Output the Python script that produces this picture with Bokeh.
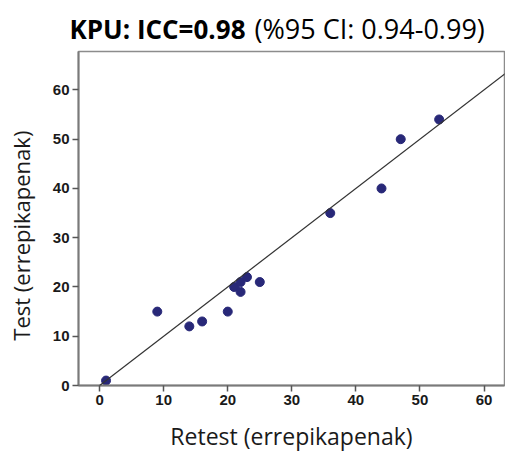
from bokeh.plotting import figure
from bokeh.models import Range1d, Slope, FixedTicker, ColumnDataSource
from bokeh.layouts import column
from bokeh.core.properties import value
from bokeh.embed import file_html
from bokeh.resources import INLINE

retest = [1, 9, 14, 16, 20, 21, 22, 22, 23, 25, 36, 44, 47, 53]
test = [1, 15, 12, 13, 15, 20, 21, 19, 22, 21, 35, 40, 50, 54]
x_ticks = [0, 10, 20, 30, 40, 50, 60]
y_ticks = [0, 10, 20, 30, 40, 50, 60]
title_bold = "KPU: ICC=0.98"
title_rest = "(%95 CI: 0.94-0.99)"
x_label = "Retest (errepikapenak)"
y_label = "Test (errepikapenak)"

# --- title strip (mixed bold / regular text) ---
t = figure(width=505, height=50, output_backend="svg", toolbar_location=None,
           x_range=Range1d(0, 505), y_range=Range1d(0, 50),
           x_axis_location=None, y_axis_location=None, min_border=0)
t.title.visible = False
try:
    t.frame_align = False
except AttributeError:
    t.x_range = Range1d(78, 504)
t.grid.visible = False
t.outline_line_color = None
t.text(x=[245], y=[22], text=[title_bold], text_align="right", text_baseline="alphabetic",
       text_font=value("Open Sans"), text_font_style="bold", text_font_size="26px",
       text_color="#000000")
t.text(x=[254], y=[22], text=[title_rest], text_align="left", text_baseline="alphabetic",
       text_font=value("Open Sans"), text_font_size="27px", text_color="#000000")

# --- main scatter ---
p = figure(width=505, height=405, output_backend="svg", toolbar_location=None,
           x_range=Range1d(-3.3, 63.2), y_range=Range1d(0, 67.8),
           min_border_left=78, min_border_right=1, min_border_top=1, min_border_bottom=70)
p.title.visible = False
p.grid.visible = False
p.outline_line_color = "#8c8c8c"
p.outline_line_width = 1.5

for ax, ticks in ((p.xaxis, x_ticks), (p.yaxis, y_ticks)):
    ax.ticker = FixedTicker(ticks=ticks)
    ax.axis_line_color = "#7a7a7a"
    ax.axis_line_width = 2
    ax.major_tick_line_color = "#555555"
    ax.major_tick_line_width = 1.5
    ax.major_tick_in = 0
    ax.major_tick_out = 6
    ax.minor_tick_line_color = None
    ax.major_label_text_font = "Liberation Sans"
    ax.major_label_text_font_style = "bold"
    ax.major_label_text_font_size = "15px"
    ax.major_label_text_color = "#1a1a1a"
    ax.major_label_standoff = 3
    ax.axis_label_text_font = "Open Sans"
    ax.axis_label_text_font_style = "normal"
    ax.axis_label_text_color = "#1a1a1a"

p.xaxis.axis_label = x_label
p.xaxis.axis_label_text_font_size = "23px"
p.xaxis.axis_label_standoff = 12
p.yaxis.axis_label = y_label + "\u00a0" * 6
p.yaxis.axis_label_text_font_size = "22px"
p.yaxis.axis_label_standoff = 14

src = ColumnDataSource(dict(x=retest, y=test))
p.add_layout(Slope(gradient=1, y_intercept=0, line_color="#333333", line_width=1.2))
p.scatter("x", "y", source=src, size=9, fill_color="#282878", line_color="#282878")

layout = column(t, p, spacing=0)
open("out.html", "w").write(file_html(layout, INLINE))
